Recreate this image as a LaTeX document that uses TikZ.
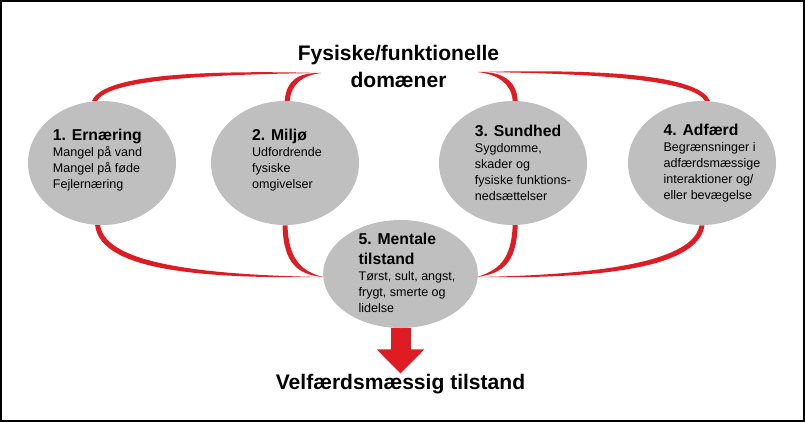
\documentclass[tikz,border=0pt]{standalone}
\usepackage{fontspec}
\setmainfont{Liberation Sans}
\usetikzlibrary{arrows.meta, shapes.geometric, calc, backgrounds}

\definecolor{domainred}{RGB}{222,28,36}
\definecolor{blobgray}{RGB}{191,191,191}

\newcommand{\blobhead}{\bfseries\fontsize{11.8}{12}\selectfont}
% tapered red link: start, control 1, control 2, hub, offset x, offset y
\newcommand{\swoosh}[6]{%
  \fill[domainred] (#4) .. controls ($(#3)+(#5,#6)$) and ($(#2)+(#5,#6)$) .. ($(#1)+(#5,0)$)
    -- ($(#1)-(#5,0)$) .. controls ($(#2)-(#5,#6)$) and ($(#3)-(#5,#6)$) .. (#4) -- cycle;}

\begin{document}
\begin{tikzpicture}[x=0.75pt, y=-0.75pt, >=latex,
    blob/.style={ellipse, fill=blobgray, inner sep=0pt, minimum width=111pt, minimum height=93pt},
    txt/.style={align=left, inner sep=0pt, font={\fontsize{9.4}{12}\selectfont}},
    big/.style={align=center, inner sep=0pt, font={\bfseries\fontsize{15.8}{20.25}\selectfont}}]
      \useasboundingbox (0,0) rectangle (805,422);
      \draw[line width=1.5pt] (1,1) rectangle (804,421);

      % Domains
      \node[blob] (e1) at (102,163) {};
      \node[blob] (e2) at (285,163) {};
      \node[blob] (e3) at (513,163) {};
      \node[blob] (e4) at (702,163) {};
      \node[blob, minimum width=116pt, minimum height=81pt] (e5) at (400.5,274) {};

      \node[txt] (t1) at (97.5,160) {{\blobhead 1. Ernæring}\\Mangel på vand\\Mangel på føde\\Fejlernæring};
      \node[txt] (t2) at (287,160) {{\blobhead 2. Miljø}\\Udfordrende\\fysiske\\omgivelser};
      \node[txt] (t3) at (523,163) {{\blobhead 3. Sundhed}\\Sygdomme,\\skader og\\fysiske funktions-\\nedsættelser};
      \node[txt] (t4) at (712,163) {{\blobhead 4. Adfærd}\\Begrænsninger i\\adfærdsmæssige\\interaktioner og/\\eller bevægelse};
      \node[txt] (t5) at (407,273) {{\blobhead 5. Mentale}\\[3pt]{\blobhead tilstand}\\Tørst, sult, angst,\\frygt, smerte og\\lidelse};

      % Titles
      \node[big] (title) at (398.5,66) {Fysiske/funktionelle\\domæner};
      \node[big, anchor=base] (welfare) at (400.5,389) {Velfærdsmæssig tilstand};

      \coordinate (hubTL) at (321,73);
      \coordinate (hubTR) at (478,72);
      \coordinate (hubBL) at (323,277);
      \coordinate (hubBR) at (477,277);

      % Links
      \begin{scope}[on background layer]
        \swoosh{e1.97}{104,80}{180,72}{hubTL}{-2.5}{-2.5}
        \swoosh{e2.88}{289,82}{300,74}{hubTL}{-2.5}{-1.5}
        \swoosh{e3.88}{514,82}{500,73}{hubTR}{2.5}{-1.5}
        \swoosh{e4.85}{697,80}{620,71}{hubTR}{2.5}{-2.5}
        \swoosh{e1.266}{102,260}{170,277}{hubBL}{-2.5}{2.5}
        \swoosh{e2.270}{286,262}{300,273}{hubBL}{-2.5}{1.5}
        \swoosh{e3.272}{514,262}{500,272}{hubBR}{2.5}{1.5}
        \swoosh{e4.270}{697,258}{630,277}{hubBR}{2.5}{2.5}
        \draw[domainred, line width=15pt, -{Triangle[width=34.5pt, length=18pt]}] (e5) -- (welfare);
      \end{scope}
    \end{tikzpicture}
\end{document}
